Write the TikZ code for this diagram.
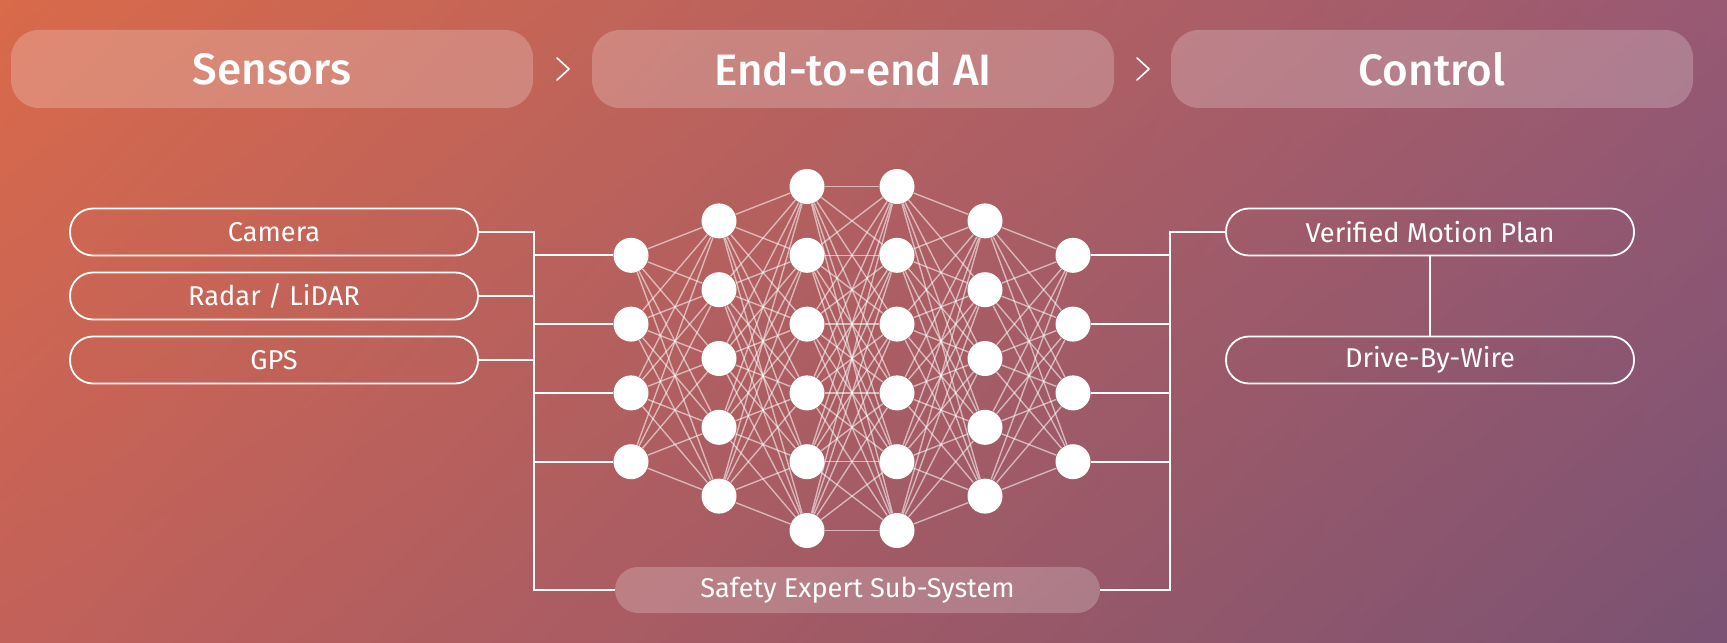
\documentclass[tikz,border=0pt]{standalone}
\usepackage{fontspec}
\usetikzlibrary{shadings}
\setmainfont{Fira Sans}
\newfontfamily\headfont{Fira Sans Medium}
\definecolor{bgTopLeft}{HTML}{D96A4A}
\definecolor{bgTopRight}{HTML}{985973}
\definecolor{bgBottomLeft}{HTML}{C2615A}
\definecolor{bgBottomRight}{HTML}{7A5273}
\begin{document}
\begin{tikzpicture}[x=0.5pt, y=-0.5pt]

% Define styles
\tikzstyle{header} = [rectangle, rounded corners=14pt, fill=white, fill opacity=0.22, text opacity=1, text=white, minimum width=261pt, minimum height=39pt, font=\headfont\fontsize{22}{25}\selectfont]
\tikzstyle{pill} = [rectangle, rounded corners=11.5pt, draw=white, line width=0.9pt, text=white, minimum width=204pt, minimum height=23.5pt, font=\fontsize{13.6}{15}\selectfont]
\tikzstyle{safety} = [rectangle, rounded corners=11.5pt, fill=white, fill opacity=0.22, text opacity=1, text=white, minimum width=242.5pt, minimum height=23pt, font=\fontsize{13.6}{15}\selectfont]
\tikzstyle{neuron} = [circle, fill=white, minimum size=17.5pt, inner sep=0pt]
\tikzstyle{synapse} = [draw=white, draw opacity=0.55, line width=0.7pt]
\tikzstyle{wire} = [draw=white, line width=0.9pt]
\tikzstyle{chevron} = [draw=white, line width=0.8pt, line cap=round, line join=round]

% Background
\useasboundingbox (0,0) rectangle (1727,642);
\shade[upper left=bgTopLeft, upper right=bgTopRight, lower left=bgBottomLeft, lower right=bgBottomRight] (0,0) rectangle (1727,642);

% Define header nodes
\node[header] (sensorsHeader) at (272,69) {Sensors};
\node[header] (endToEndHeader) at (853,69) {End-to-end AI};
\node[header] (controlHeader) at (1432,69) {Control};
\coordinate (chevronA) at (563,69);
\coordinate (chevronB) at (1143,69);
\draw[chevron] ([shift={(-6,-11)}]chevronA) -- ++(12,11) -- ++(-12,11);
\draw[chevron] ([shift={(-6,-11)}]chevronB) -- ++(12,11) -- ++(-12,11);

% Define input nodes (sensors)
\node[pill] (camera) at (274,232) {Camera};
\node[pill] (radarLidar) at (274,296) {Radar / LiDAR};
\node[pill] (gps) at (274,360) {GPS};

% Define output nodes (control)
\node[pill] (verifiedMotionPlan) at (1430,232) {Verified Motion Plan};
\node[pill] (driveByWire) at (1430,360) {Drive-By-Wire};

% Define safety node
\node[safety] (safetyExpert) at (857.5,590) {Safety Expert Sub-System};

% Define network nodes
\foreach \l/\c/\x in {1/4/631, 2/5/719, 3/6/807, 4/6/897, 5/5/985, 6/4/1073} {
  \foreach \i in {1,...,\c} {
    \pgfmathsetmacro\y{358.5+(\i-(\c+1)/2)*68.8}
    \node[neuron] (n\l-\i) at (\x,\y) {};
  }
}

% Connections between layers
\foreach \l/\c/\m/\d in {1/4/2/5, 2/5/3/6, 3/6/4/6, 4/6/5/5, 5/5/6/4} {
  \foreach \i in {1,...,\c} {
    \foreach \j in {1,...,\d} {
      \draw[synapse] (n\l-\i) -- (n\m-\j);
    }
  }
}

% Left bus
\coordinate (leftBusTop) at (534,232);
\coordinate (leftBusBottom) at (534,590);
\draw[wire] (camera.east) -- (leftBusTop) -- (leftBusBottom) -- (safetyExpert.west);
\draw[wire] (radarLidar.east) -- (radarLidar.east -| leftBusTop);
\draw[wire] (gps.east) -- (gps.east -| leftBusTop);
\foreach \i in {1,...,4} {
  \draw[wire] (n1-\i.west -| leftBusTop) -- (n1-\i);
}

% Right bus
\coordinate (rightBusTop) at (1170,232);
\coordinate (rightBusBottom) at (1170,590);
\draw[wire] (verifiedMotionPlan.west) -- (rightBusTop) -- (rightBusBottom) -- (safetyExpert.east);
\foreach \i in {1,...,4} {
  \draw[wire] (n6-\i) -- (n6-\i.east -| rightBusTop);
}
\draw[wire] (verifiedMotionPlan) -- (driveByWire);

\end{tikzpicture}
\end{document}
